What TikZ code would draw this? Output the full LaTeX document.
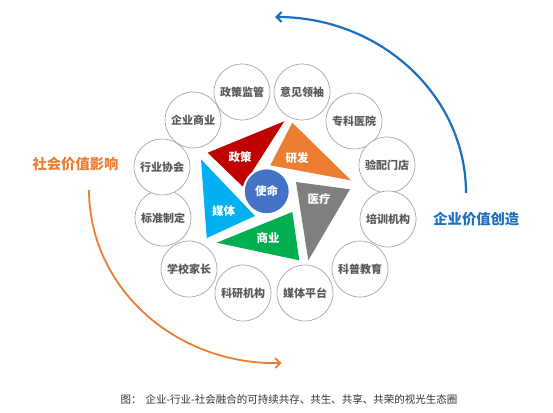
\documentclass[tikz,border=0pt]{standalone}
\usepackage{fontspec}
\setmainfont{Noto Sans CJK SC}
\usetikzlibrary{arrows.meta}
\definecolor{cred}{HTML}{C00000}
\definecolor{corange}{HTML}{ED7D31}
\definecolor{cgray}{HTML}{7F7F7F}
\definecolor{cgreen}{HTML}{00B050}
\definecolor{csky}{HTML}{00B0F0}
\definecolor{ccore}{HTML}{4472C4}
\definecolor{carcblue}{HTML}{1A6FBF}
\definecolor{ringline}{HTML}{A6A6A6}
\definecolor{ringtext}{HTML}{595959}
\definecolor{captext}{HTML}{333333}
\tikzset{
  ringnode/.style={circle, draw=ringline, line width=0.7pt, fill=white, minimum size=56pt, inner sep=0pt,
    text=ringtext, font=\bfseries\fontsize{11}{11}\selectfont},
  trilabel/.style={text=white, inner sep=0pt, font=\bfseries\fontsize{11.5}{11.5}\selectfont},
  biglabel/.style={inner sep=0pt, font=\bfseries\fontsize{14.3}{14.3}\selectfont},
  arcbarb/.style={-{Straight Barb[length=5pt,width=10pt]}}
}
\begin{document}
\begin{tikzpicture}[x=1pt,y=-1pt]
\useasboundingbox[fill=white] (0,0) rectangle (553,412);

% outer ring
\node[ringnode] (r1) at (242,92) {政策监管};
\node[ringnode] (r2) at (302,92) {意见领袖};
\node[ringnode] (r3) at (354,121) {专科医院};
\node[ringnode] (r4) at (387,165) {验配门店};
\node[ringnode] (r5) at (388,219) {培训机构};
\node[ringnode] (r6) at (360,269) {科普教育};
\node[ringnode] (r7) at (305,293) {媒体平台};
\node[ringnode] (r8) at (243,293) {科研机构};
\node[ringnode] (r9) at (189,269) {学校家长};
\node[ringnode] (r10) at (163,218) {标准制定};
\node[ringnode] (r11) at (162,167) {行业协会};
\node[ringnode] (r12) at (193,120) {企业商业};

% pinwheel triangles
\fill[cred] (207.7,152.7) -- (284.3,121.3) -- (242.7,186.5) -- cycle;
\fill[corange] (292.3,122.7) -- (351,180.3) -- (270.3,165.3) -- cycle;
\fill[cgray] (296,182) -- (350,189.3) -- (308.3,260.3) -- cycle;
\fill[cgreen] (216.7,242.7) -- (292.3,212) -- (299.3,260.3) -- cycle;
\fill[csky] (201,159.3) -- (206.7,238) -- (255,216) -- cycle;

\node[trilabel] (t1) at (240,157) {政策};
\node[trilabel] (t2) at (297,158) {研发};
\node[trilabel] (t3) at (319,199.5) {医疗};
\node[trilabel] (t4) at (268,238.5) {商业};
\node[trilabel] (t5) at (223.5,211) {媒体};

\node[circle, fill=ccore, draw=white, line width=2pt, minimum size=46pt, inner sep=0pt,
  text=white, font=\bfseries\fontsize{11.5}{11.5}\selectfont] (core) at (266.7,191.3) {使命};

% arcs
\coordinate (bstart) at (466,193);
\draw[carcblue, line width=2.2pt, arcbarb] (bstart) arc[start angle=0, end angle=-90, x radius=191, y radius=176];
\coordinate (ostart) at (89,190);
\draw[corange, line width=1.8pt, arcbarb] (ostart) arc[start angle=180, end angle=88, x radius=186, y radius=173];

\node[biglabel, text=corange] (lsoc) at (75.5,164) {社会价值影响};
\node[biglabel, text=carcblue] (lent) at (476.3,219.3) {企业价值创造};

\node[inner sep=0pt, text=captext, font=\fontsize{10.5}{10.5}\selectfont] (cap) at (289,399)
  {图：\hspace{4pt}企业-行业-社会融合的可持续共存、共生、共享、共荣的视光生态圈};
\end{tikzpicture}
\end{document}
